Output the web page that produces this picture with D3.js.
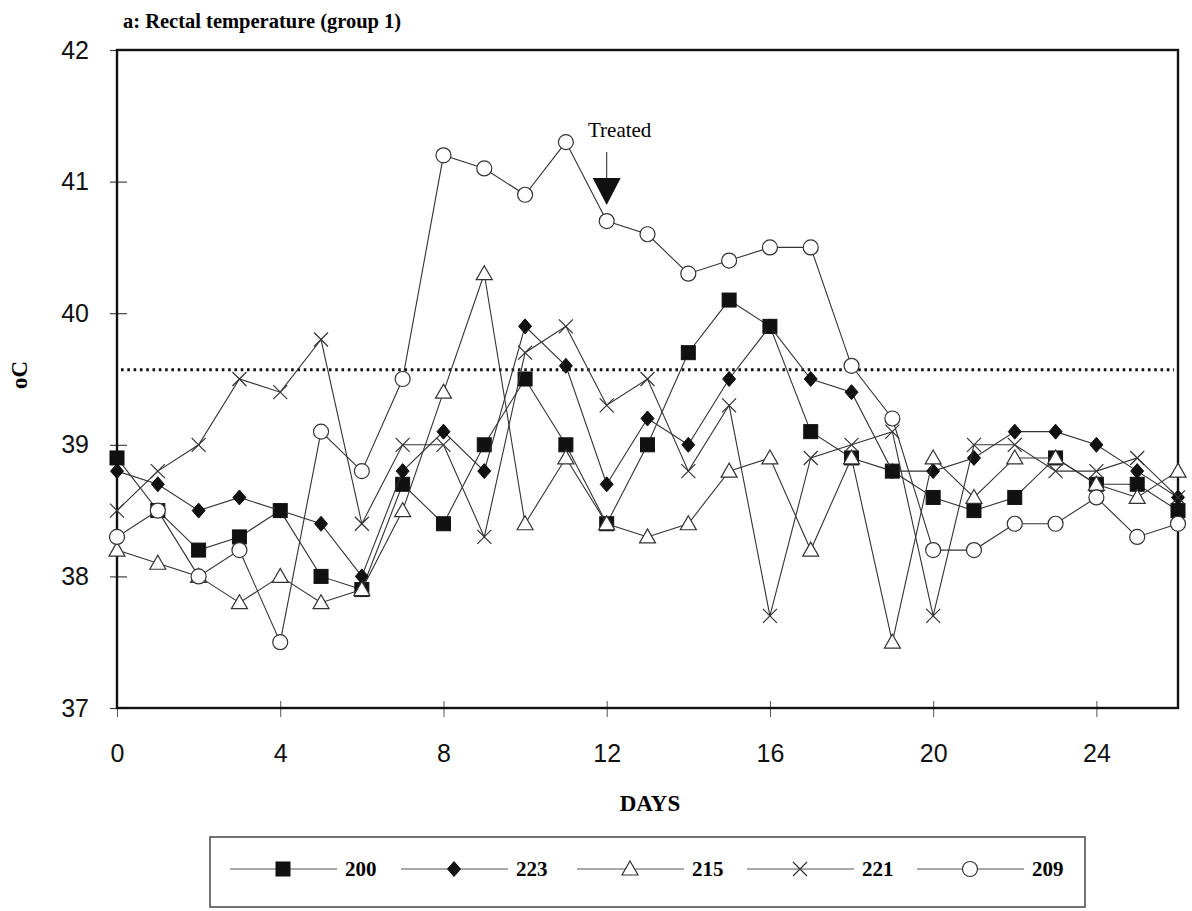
<!DOCTYPE html>
<html>
<head>
<meta charset="utf-8">
<script src="https://cdn.jsdelivr.net/npm/d3@7"></script>
<style>
  html, body { margin: 0; padding: 0; background: #fff; }
  svg { display: block; }
</style>
</head>
<body>
<div id="chart"></div>
<script>
// Daily rectal temperature (°C), group 1, animals 200, 223, 215, 221, 209
const days = d3.range(0, 27);
const animals = ["200", "223", "215", "221", "209"];
const temp200 = [38.9, 38.5, 38.2, 38.3, 38.5, 38.0, 37.9, 38.7, 38.4, 39.0, 39.5, 39.0, 38.4, 39.0, 39.7, 40.1, 39.9, 39.1, 38.9, 38.8, 38.6, 38.5, 38.6, 38.9, 38.7, 38.7, 38.5];
const temp223 = [38.8, 38.7, 38.5, 38.6, 38.5, 38.4, 38.0, 38.8, 39.1, 38.8, 39.9, 39.6, 38.7, 39.2, 39.0, 39.5, 39.9, 39.5, 39.4, 38.8, 38.8, 38.9, 39.1, 39.1, 39.0, 38.8, 38.6];
const temp215 = [38.2, 38.1, 38.0, 37.8, 38.0, 37.8, 37.9, 38.5, 39.4, 40.3, 38.4, 38.9, 38.4, 38.3, 38.4, 38.8, 38.9, 38.2, 38.9, 37.5, 38.9, 38.6, 38.9, 38.9, 38.7, 38.6, 38.8];
const temp221 = [38.5, 38.8, 39.0, 39.5, 39.4, 39.8, 38.4, 39.0, 39.0, 38.3, 39.7, 39.9, 39.3, 39.5, 38.8, 39.3, 37.7, 38.9, 39.0, 39.1, 37.7, 39.0, 39.0, 38.8, 38.8, 38.9, 38.6];
const temp209 = [38.3, 38.5, 38.0, 38.2, 37.5, 39.1, 38.8, 39.5, 41.2, 41.1, 40.9, 41.3, 40.7, 40.6, 40.3, 40.4, 40.5, 40.5, 39.6, 39.2, 38.2, 38.2, 38.4, 38.4, 38.6, 38.3, 38.4];
const feverThreshold = 39.57;
const treatedDay = 12;
const xTickValues = [0, 4, 8, 12, 16, 20, 24];
const yTickValues = [37, 38, 39, 40, 41, 42];

const seriesValues = [temp200, temp223, temp215, temp221, temp209];
const markerKinds = ["square", "diamond", "triangle", "cross", "circle"];

const W = 1192, H = 911;
const svg = d3.select("#chart").append("svg").attr("width", W).attr("height", H);

const x = d3.scaleLinear().domain([0, 26]).range([117, 1178]);
const y = d3.scaleLinear().domain([37, 42]).range([708, 50]);

const serif = "'Liberation Serif', 'Times New Roman', serif";
const sans = "'Liberation Sans', Arial, sans-serif";

// Title
svg.append("text").attr("x", 123).attr("y", 28)
  .attr("font-family", serif).attr("font-weight", "bold").attr("font-size", 20.5)
  .text("a: Rectal temperature (group 1)");

// Axes with ticks crossing the frame
const yAxis = svg.append("g").attr("transform", `translate(${x(0)},0)`)
  .call(d3.axisLeft(y).tickValues(yTickValues).tickSize(9).tickPadding(19).tickFormat(d3.format("d")));
yAxis.select(".domain").remove();
yAxis.selectAll(".tick line").attr("x1", 10).attr("x2", -7).attr("stroke", "#333").attr("stroke-width", 1.1);
yAxis.selectAll(".tick text").attr("font-family", sans).attr("font-size", 25).attr("fill", "#111");

const xAxis = svg.append("g").attr("transform", `translate(0,${y(37)})`)
  .call(d3.axisBottom(x).tickValues(xTickValues).tickSize(9).tickPadding(27).tickFormat(d3.format("d")));
xAxis.select(".domain").remove();
xAxis.selectAll(".tick line").attr("y1", -7).attr("y2", 9).attr("stroke", "#555").attr("stroke-width", 1);
xAxis.selectAll(".tick text").attr("font-family", sans).attr("font-size", 25).attr("fill", "#111");

// Plot frame
svg.append("rect")
  .attr("x", x(0)).attr("y", y(42))
  .attr("width", x(26) - x(0)).attr("height", y(37) - y(42))
  .attr("fill", "none").attr("stroke", "#111").attr("stroke-width", 2.4);

// Fever threshold
svg.append("line")
  .attr("x1", x(0) + 4).attr("x2", x(26) - 4)
  .attr("y1", y(feverThreshold)).attr("y2", y(feverThreshold))
  .attr("stroke", "#111").attr("stroke-width", 3)
  .attr("stroke-dasharray", "2.6 3.7");

// Axis titles
svg.append("text").attr("x", 650).attr("y", 811).attr("text-anchor", "middle")
  .attr("font-family", serif).attr("font-weight", "bold").attr("font-size", 23)
  .text("DAYS");
svg.append("text").attr("transform", "translate(27,375) rotate(-90)").attr("text-anchor", "middle")
  .attr("font-family", serif).attr("font-weight", "bold").attr("font-size", 23)
  .text("oC");

// Marker drawing
function drawMarker(g, kind, cx, cy) {
  if (kind === "square") {
    g.append("rect").attr("x", cx - 7).attr("y", cy - 7).attr("width", 14).attr("height", 14)
      .attr("fill", "#111").attr("stroke", "#111").attr("stroke-width", 1);
  } else if (kind === "diamond") {
    g.append("path").attr("d", `M${cx},${cy - 7.5}L${cx + 6.5},${cy}L${cx},${cy + 7.5}L${cx - 6.5},${cy}Z`)
      .attr("fill", "#111").attr("stroke", "#111").attr("stroke-width", 1);
  } else if (kind === "triangle") {
    g.append("path").attr("d", `M${cx},${cy - 8}L${cx + 8},${cy + 6}L${cx - 8},${cy + 6}Z`)
      .attr("fill", "#fff").attr("stroke", "#333").attr("stroke-width", 1.2);
  } else if (kind === "cross") {
    g.append("path").attr("d", `M${cx - 7},${cy - 7}L${cx + 7},${cy + 7}M${cx - 7},${cy + 7}L${cx + 7},${cy - 7}`)
      .attr("fill", "none").attr("stroke", "#333").attr("stroke-width", 1.2);
  } else if (kind === "circle") {
    g.append("circle").attr("cx", cx).attr("cy", cy).attr("r", 7.5)
      .attr("fill", "#fff").attr("stroke", "#333").attr("stroke-width", 1.2);
  }
}

const line = d3.line().x((d, i) => x(days[i])).y(d => y(d));

seriesValues.forEach((vals, s) => {
  const g = svg.append("g").attr("class", "series-" + animals[s]);
  g.append("path").datum(vals).attr("d", line)
    .attr("fill", "none").attr("stroke", "#333").attr("stroke-width", 1.1);
  vals.forEach((v, i) => drawMarker(g, markerKinds[s], x(days[i]), y(v)));
});

// Treatment marker
const tx = x(treatedDay);
svg.append("text").attr("x", tx + 13).attr("y", 137).attr("text-anchor", "middle")
  .attr("font-family", serif).attr("font-size", 21).text("Treated");
svg.append("line").attr("x1", tx).attr("x2", tx).attr("y1", 152).attr("y2", 180)
  .attr("stroke", "#222").attr("stroke-width", 1);
svg.append("path").attr("d", `M${tx - 14},178L${tx + 14},178L${tx},205Z`).attr("fill", "#111");

// Legend
const legend = svg.append("g");
legend.append("rect").attr("x", 210).attr("y", 837).attr("width", 875).attr("height", 70)
  .attr("fill", "#fff").attr("stroke", "#444").attr("stroke-width", 1.5);
const legendMarkerX = [283, 454, 630, 800, 970];
const legendY = 869;
animals.forEach((name, s) => {
  const mx = legendMarkerX[s];
  legend.append("line").attr("x1", mx - 53).attr("x2", mx + 54).attr("y1", legendY).attr("y2", legendY)
    .attr("stroke", "#555").attr("stroke-width", 1);
  drawMarker(legend, markerKinds[s], mx, legendY);
  legend.append("text").attr("x", mx + 62).attr("y", legendY + 7)
    .attr("font-family", serif).attr("font-weight", "bold").attr("font-size", 21).text(name);
});
</script>
</body>
</html>
